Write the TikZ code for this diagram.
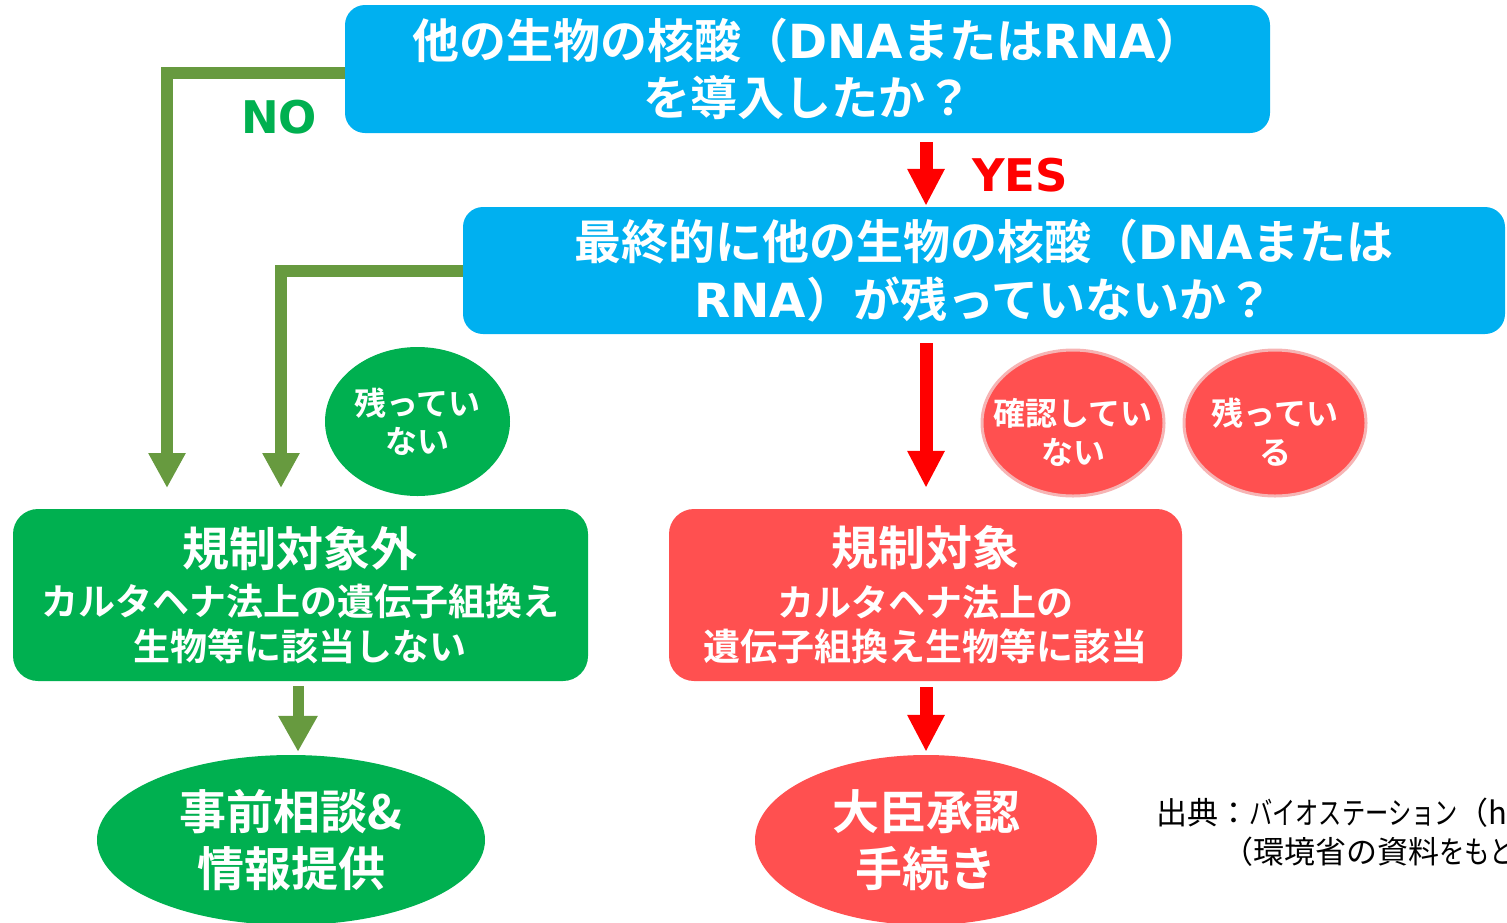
\documentclass[tikz,border=0pt]{standalone}
\usepackage{fontspec}
\setmainfont{Noto Sans CJK JP}[BoldFont={* Bold}]
\newfontfamily\vlat{DejaVu Sans}
\usetikzlibrary{arrows.meta,shapes.geometric,calc}
\definecolor{boxcyan}{HTML}{00B0F0}
\definecolor{okgreen}{HTML}{00B050}
\definecolor{ngred}{HTML}{FF5050}
\definecolor{olivearrow}{HTML}{679A3F}
\definecolor{pinkline}{HTML}{F6B4B4}
\newcommand{\lat}[1]{{\vlat #1}}
\begin{document}
\begin{tikzpicture}[x=1pt,y=-1pt,
  qbox/.style={rectangle, rounded corners=20pt, fill=boxcyan, text=white, align=center, inner sep=0pt,
    font=\bfseries\fontsize{47}{57.5}\selectfont},
  gbox/.style={rectangle, rounded corners=25pt, fill=okgreen, text=white, align=center, inner sep=0pt,
    font=\bfseries\fontsize{37}{44.5}\selectfont, minimum width=575pt, minimum height=172pt},
  rbox/.style={gbox, fill=ngred, minimum width=513pt},
  smallell/.style={ellipse, inner sep=0pt, text=white, align=center, font=\bfseries\fontsize{32}{38}\selectfont},
  gsmall/.style={smallell, fill=okgreen, minimum width=185pt, minimum height=149pt},
  rsmall/.style={smallell, fill=ngred, draw=pinkline, line width=3pt, minimum width=182pt, minimum height=146pt},
  elltxt/.style={inner sep=0pt, text=white, align=center, font=\bfseries\fontsize{32}{39}\selectfont},
  bigell/.style={ellipse, inner sep=0pt, text=white, align=center, font=\bfseries\fontsize{47}{56.5}\selectfont, minimum height=170pt},
  gconn/.style={draw=olivearrow, line width=12pt, -{Triangle[width=35pt,length=35pt]}},
  gshort/.style={draw=olivearrow, line width=11pt, -{Triangle[width=37pt,length=36pt]}},
  rconn/.style={draw=red, line width=13pt, -{Triangle[width=35pt,length=37pt]}},
  answer/.style={inner sep=0pt, font=\vlat\bfseries\fontsize{45}{45}\selectfont},
  srctext/.style={inner sep=0pt, anchor=west, text=black, font=\fontsize{31}{31}\selectfont}
]
\useasboundingbox (0,0) rectangle (1507,922);
\clip (0,0) rectangle (1507,922);

% question boxes
\node[qbox, minimum width=925pt, minimum height=128pt] (q1) at (807.5,69)
  {他の生物の核酸（\lat{DNA}または\lat{RNA}）\\を導入したか？};
\node[qbox, minimum width=1042pt, minimum height=127pt] (q2) at (984,270.5)
  {最終的に他の生物の核酸（\lat{DNA}または\\\lat{RNA}）が残っていないか？};

% outcome boxes
\node[gbox] (gb) at (300.5,595)
  {{\fontsize{47}{47}\selectfont 規制対象外}\\[5pt]カルタヘナ法上の遺伝子組換え\\生物等に該当しない};
\node[rbox] (rb) at (925.5,595)
  {{\fontsize{47}{47}\selectfont 規制対象}\\[6pt]カルタヘナ法上の\\遺伝子組換え生物等に該当};

% condition ellipses
\node[gsmall] (g1) at (417.5,421.5) {残ってい\\ない};
\node[rsmall] (r1) at (1073,423) {};
\node[elltxt] (r1t) at (1073,432) {確認してい\\ない};
\node[rsmall] (r2) at (1275,423) {};
\node[elltxt] (r2t) at (1275,432) {残ってい\\る};

% final ellipses
\node[bigell, fill=okgreen, minimum width=388pt] (ge) at (291,840) {事前相談\&\\情報提供};
\node[bigell, fill=ngred, minimum width=342pt] (re) at (926,840) {大臣承認\\手続き};

% answer labels
\node[answer, text=okgreen] (no) at (279,117) {NO};
\node[answer, text=red] (yes) at (1020,175) {YES};

% connectors
\coordinate (n1) at (167,488);
\coordinate (n2) at (281,488);
\coordinate (ax) at (926,0);
\coordinate (gx) at (298,0);
\draw[gconn] ([yshift=-4pt]q1.west) -| (n1);
\draw[gconn] (q2.west) -| (n2);
\draw[rconn, shorten <=9pt, shorten >=1pt] (q1.south -| ax) -- (q2.north -| ax);
\draw[rconn, shorten <=9pt, shorten >=21pt] (q2.south -| ax) -- (rb.north -| ax);
\draw[gshort, shorten <=5pt, shorten >=3pt] (gb.south -| gx) -- (ge.north -| gx);
\draw[rconn, shorten <=6pt, shorten >=3pt] (rb.south -| ax) -- (re.north -| ax);

% source
\node[srctext] (src1) at (1156,813) {出典：\scalebox{0.75}[1]{バイオステーション}（h};
\node[srctext] (src2) at (1222,852) {（環境省の資料\scalebox{0.82}[1]{をもと}};
\end{tikzpicture}
\end{document}
